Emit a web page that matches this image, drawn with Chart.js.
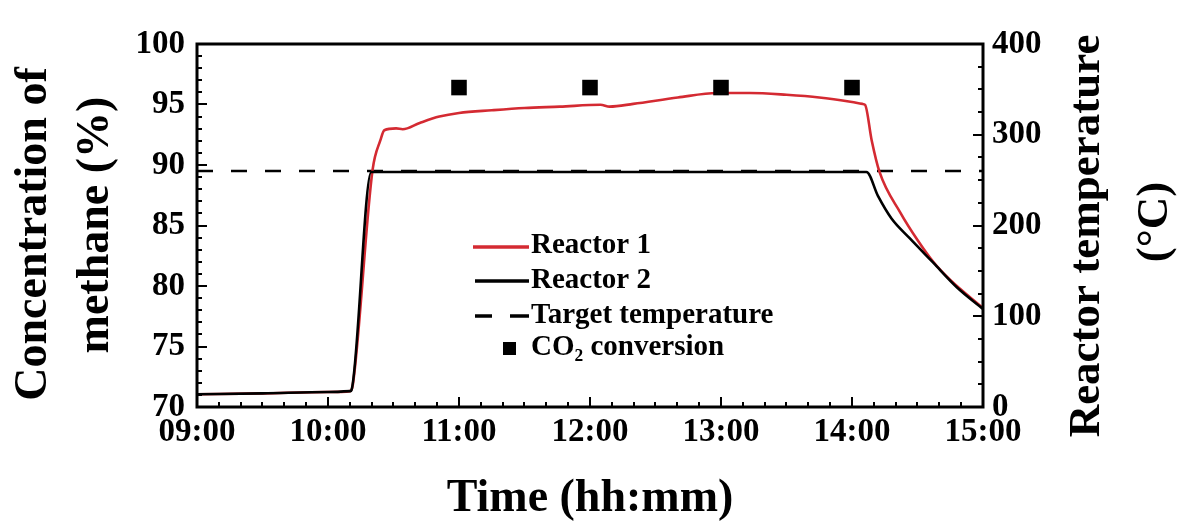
<!DOCTYPE html>
<html>
<head>
    <meta charset="UTF-8">
    <title>Methane concentration and reactor temperature</title>
    <script src="https://cdn.jsdelivr.net/npm/chart.js@4.4.1/dist/chart.umd.min.js"></script>
    <style type="text/css">
        html, body { margin: 0; padding: 0; background: #fff; }
        #wrap { width: 1187px; height: 524px; }
    </style>
</head>
<body>
<div id="wrap">
    <canvas id="chart" width="1187" height="524"></canvas>
</div>

<script>
    // time in hours (9 = 09:00), temperature in degC
    const r1Time = [9.0, 9.5, 10.0, 10.17, 10.19, 10.34, 10.4, 10.43, 10.52, 10.57, 10.7, 10.85, 11.0, 11.25, 11.5, 11.77, 12.08, 12.15, 12.33, 12.67, 12.97, 13.22, 13.5, 13.75, 14.0, 14.08, 14.1, 14.15, 14.21, 14.37, 14.5, 14.62, 14.75, 15.0];
    const r1Temp = [14, 15, 16.5, 17.5, 25, 261, 294, 305, 307, 306, 313, 320, 324, 327, 329.5, 331, 333, 331, 334, 341, 346, 346, 344, 341, 336, 334, 333, 294, 259, 214, 184, 160, 140, 109];

    const r2Time = [9.0, 9.5, 10.0, 10.17, 10.18, 10.33, 11.0, 12.0, 13.0, 14.0, 14.11, 14.2, 14.3, 14.44, 14.62, 14.8, 15.0];
    const r2Temp = [14, 15, 16.5, 17.5, 19, 259, 259, 259, 259, 259, 259, 232, 208, 186, 159, 132, 108];

    const targetTime = [9.0, 15.0];
    const targetTemp = [260, 260];

    const co2Time = [11, 12, 13, 14];
    const co2Conc = [96.4, 96.4, 96.4, 96.4];

    const xTicks = [9, 10, 11, 12, 13, 14, 15];

    const FONT = '"Liberation Serif", "Times New Roman", serif';
    const RED = '#d42a32';

    function pts(xs, ys) {
        return xs.map((x, i) => ({ x: x, y: ys[i] }));
    }

    function vText(ctx, t, x, y) {
        ctx.save();
        ctx.translate(x, y);
        ctx.rotate(-Math.PI / 2);
        ctx.fillText(t, 0, 0);
        ctx.restore();
    }

    // inward ticks, frame, y titles and legend
    const decor = {
        id: 'decor',
        afterDraw(chart) {
            const ctx = chart.ctx;
            const a = chart.chartArea;
            const sx = chart.scales.x, sy = chart.scales.y, sy2 = chart.scales.y2;
            ctx.save();
            ctx.strokeStyle = '#000';
            ctx.lineWidth = 2;
            ctx.beginPath();
            for (let v = 9; v <= 15.001; v += 1 / 6) {
                const px = Math.round(sx.getPixelForValue(v));
                const major = Math.abs(v - Math.round(v)) < 0.01;
                ctx.moveTo(px, a.bottom);
                ctx.lineTo(px, a.bottom - (major ? 10 : 5));
            }
            for (let v = 70; v <= 100; v += 1) {
                const py = Math.round(sy.getPixelForValue(v));
                ctx.moveTo(a.left, py);
                ctx.lineTo(a.left + (v % 5 === 0 ? 10 : 5), py);
            }
            for (let v = 0; v <= 400; v += 25) {
                const py = Math.round(sy2.getPixelForValue(v));
                ctx.moveTo(a.right, py);
                ctx.lineTo(a.right - (v % 100 === 0 ? 10 : 5), py);
            }
            ctx.stroke();

            ctx.lineWidth = 3;
            ctx.strokeRect(a.left, a.top, a.right - a.left, a.bottom - a.top);

            // axis titles, reading bottom to top
            ctx.fillStyle = '#000';
            ctx.font = 'bold 46px ' + FONT;
            ctx.textAlign = 'center';
            ctx.textBaseline = 'middle';
            vText(ctx, 'Concentration of', 34, 234);
            vText(ctx, 'methane (%)', 96, 225);
            ctx.font = 'bold 45px ' + FONT;
            vText(ctx, 'Reactor temperature', 1087, 236);
            vText(ctx, '(°C)', 1155, 222);

            // legend
            ctx.font = 'bold 29px ' + FONT;
            ctx.textAlign = 'left';
            const rows = [246, 281, 316, 348];
            const labels = ['Reactor 1', 'Reactor 2', 'Target temperature', 'CO\u2082 conversion'];
            ctx.lineWidth = 3.5;
            ctx.strokeStyle = RED;
            ctx.beginPath(); ctx.moveTo(473, rows[0] + 1); ctx.lineTo(529, rows[0] + 1); ctx.stroke();
            ctx.strokeStyle = '#000';
            ctx.beginPath(); ctx.moveTo(475, rows[1]); ctx.lineTo(529, rows[1]); ctx.stroke();
            ctx.beginPath();
            ctx.moveTo(475, rows[2]); ctx.lineTo(492, rows[2]);
            ctx.moveTo(510, rows[2]); ctx.lineTo(529, rows[2]);
            ctx.stroke();
            ctx.fillRect(503, rows[3] - 6, 13, 13);
            labels.forEach((t, i) => ctx.fillText(t, 531, rows[i]));
            ctx.restore();
        }
    };

    const tickFont = { family: FONT, size: 33, weight: 'bold' };

    new Chart(document.getElementById('chart'), {
        type: 'line',
        data: {
            datasets: [
                {
                    label: 'CO2 conversion',
                    data: pts(co2Time, co2Conc),
                    yAxisID: 'y',
                    showLine: false,
                    pointStyle: 'rect',
                    pointRadius: 11,
                    pointBackgroundColor: '#000',
                    pointBorderWidth: 0,
                    order: 0
                },
                {
                    label: 'Reactor 2',
                    data: pts(r2Time, r2Temp),
                    yAxisID: 'y2',
                    borderColor: '#000',
                    borderWidth: 2.6,
                    pointRadius: 0,
                    cubicInterpolationMode: 'monotone',
                    order: 1
                },
                {
                    label: 'Reactor 1',
                    data: pts(r1Time, r1Temp),
                    yAxisID: 'y2',
                    borderColor: RED,
                    borderWidth: 2.6,
                    pointRadius: 0,
                    cubicInterpolationMode: 'monotone',
                    order: 2
                },
                {
                    label: 'Target temperature',
                    data: pts(targetTime, targetTemp),
                    yAxisID: 'y2',
                    borderColor: '#000',
                    borderWidth: 2.6,
                    borderDash: [16, 18],
                    pointRadius: 0,
                    order: 3
                }
            ]
        },
        options: {
            responsive: false,
            animation: false,
            layout: { padding: { top: 44, left: 0, right: 0, bottom: 0 } },
            plugins: {
                legend: { display: false },
                tooltip: { enabled: false }
            },
            scales: {
                x: {
                    type: 'linear',
                    min: 9,
                    max: 15,
                    afterFit: s => { s.height = 117; },
                    afterBuildTicks: s => { s.ticks = xTicks.map(v => ({ value: v })); },
                    grid: { display: false, drawTicks: false },
                    border: { display: false },
                    ticks: {
                        font: tickFont,
                        color: '#000',
                        padding: 6,
                        maxRotation: 0,
                        callback: v => (v < 10 ? '0' : '') + v + ':00'
                    },
                    title: {
                        display: true,
                        text: 'Time (hh:mm)',
                        color: '#000',
                        font: { family: FONT, size: 46, weight: 'bold', lineHeight: 1.0 },
                        padding: { top: 0, bottom: 2 }
                    }
                },
                y: {
                    position: 'left',
                    min: 70,
                    max: 100,
                    afterFit: s => { s.width = 197; },
                    grid: { display: false, drawTicks: false },
                    border: { display: false },
                    ticks: { stepSize: 5, font: tickFont, color: '#000', padding: 12 }
                },
                y2: {
                    position: 'right',
                    min: 0,
                    max: 400,
                    afterFit: s => { s.width = 204; },
                    grid: { display: false, drawTicks: false },
                    border: { display: false },
                    ticks: { stepSize: 100, font: tickFont, color: '#000', padding: 9 }
                }
            }
        },
        plugins: [decor]
    });
</script>
</body>
</html>
